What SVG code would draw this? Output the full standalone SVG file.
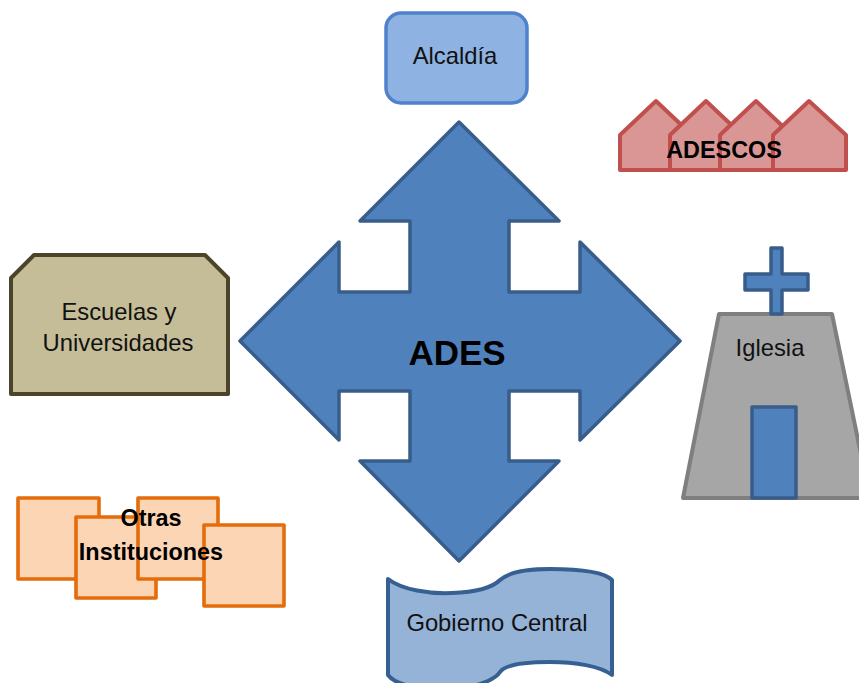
<svg xmlns="http://www.w3.org/2000/svg" width="859" height="683" viewBox="0 0 859 683">
<style>
text{font-family:"Liberation Sans",Arial,sans-serif;fill:#111;text-anchor:middle}
.l{font-size:23.8px}
.b{font-size:23.4px;font-weight:bold;fill:#000}
.blue{fill:#4f81bd;stroke:#385d8a;stroke-width:3.5;stroke-linejoin:round}
.house{fill:#d99694;stroke:#c0504d;stroke-width:4;stroke-linejoin:round}
.sq{fill:#fcd5b5;stroke:#e46c0a;stroke-width:3.6;stroke-linejoin:round}
</style>
<rect width="859" height="683" fill="#fff"/>
<g id="connectors"></g>
<g id="alcaldia">
<rect x="386" y="13" width="141" height="90" rx="15" fill="#8eb2e2" stroke="#4f81cd" stroke-width="3.5"/>
<text class="l" x="455" y="64">Alcaldía</text>
</g>
<g id="adescos">
<path class="house" d="M620 170V135L656 101L692 135V170Z"/>
<path class="house" d="M670 170V135L706 101L742 135V170Z"/>
<path class="house" d="M720 170V135L756 101L792 135V170Z"/>
<path class="house" d="M773 170V135L809 101L846 135V170Z"/>
<text class="b" x="724" y="158">ADESCOS</text>
</g>
<g id="ades">
<path class="blue" d="M459 122L559 221H509V292H580V242L680 341L580 440V391H509V461H559L459 561L360 461H410V391H339V440L240 341L339 242V292H410V221H360Z"/>
<text x="457" y="365" font-size="35" font-weight="bold" style="fill:#000">ADES</text>
</g>
<g id="escuelas">
<path d="M34 255H205L228 278V394H11V278Z" fill="#c4bd97" stroke="#4a452a" stroke-width="4" stroke-linejoin="round"/>
<text class="l" x="119" y="320">Escuelas y</text>
<text class="l" x="118" y="351">Universidades</text>
</g>
<g id="iglesia">
<path d="M719 314H832L870 498H683Z" fill="#a6a6a6" stroke="#7f7f7f" stroke-width="4" stroke-linejoin="round"/>
<path class="blue" d="M771 248H782V274H808V290H782V314H771V290H745V274H771Z" stroke-width="4"/>
<rect class="blue" x="752" y="407" width="44" height="91"/>
<text class="l" x="770" y="356">Iglesia</text>
</g>
<g id="otras">
<rect class="sq" x="18" y="498" width="81" height="81"/>
<rect class="sq" x="76" y="517" width="80" height="81"/>
<rect class="sq" x="138" y="498" width="80" height="81"/>
<rect class="sq" x="204" y="525" width="80" height="81"/>
<text class="b" x="151" y="526">Otras</text>
<text class="b" x="151" y="560">Instituciones</text>
</g>
<g id="gobierno">
<path d="M388 579C402 590 430 594 452 593C478 592 493 587 500 580C510 571 532 569 550 569C578 569 604 572 612 580V675C600 666 575 662 550 662C525 662 505 665 500 672C495 680 475 688 450 689C420 690 395 685 388 675Z" fill="#95b3d7" stroke="#376092" stroke-width="4" stroke-linejoin="round"/>
<text class="l" x="497" y="631">Gobierno Central</text>
</g>
</svg>
